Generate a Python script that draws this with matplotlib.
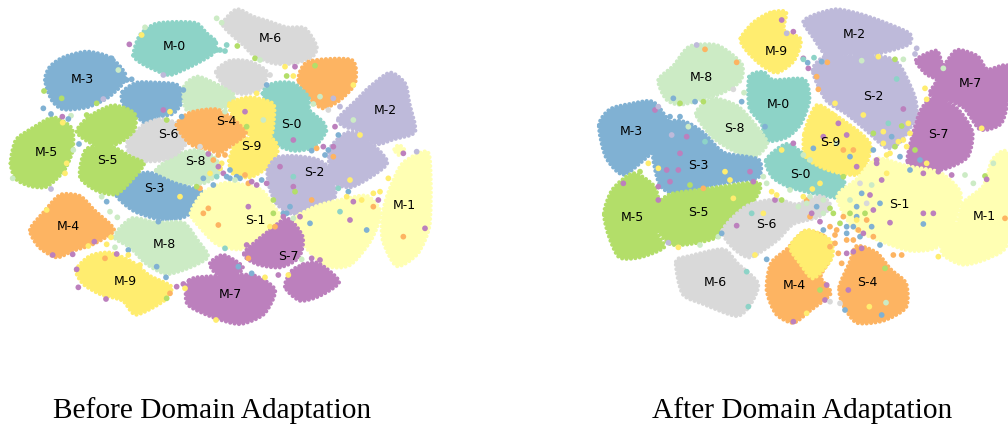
import matplotlib
matplotlib.use('Agg')
import matplotlib.pyplot as plt
from matplotlib.path import Path
from matplotlib.patches import PathPatch

# class colours (Set3 without red and pink)
colors = ['#8dd3c7', '#ffffb3', '#bebada', '#80b1d3', '#fdb462',
          '#b3de69', '#d9d9d9', '#bc80bd', '#ccebc5', '#ffed6f']

# ---- before adaptation: blob outlines
b_m0 = [(400,165),(420,105),(465,72),(530,66),(590,70),(620,100),(648,125),(640,160),(600,185),(560,205),(510,225),(470,212),(425,190)]
b_m6 = [(668,70),(710,28),(760,50),(800,62),(860,82),(915,85),(950,140),(935,172),(880,190),(820,190),(760,165),(730,135),(690,100)]
b_m3 = [(135,240),(150,200),(190,172),(260,155),(330,172),(375,220),(365,255),(320,295),(260,322),(190,328),(155,300)]
b_s6_top = [(648,215),(690,182),(750,185),(800,215),(785,265),(730,282),(680,265)]
b_s4_top = [(895,240),(925,185),(1055,180),(1065,250),(1020,300),(970,325),(935,300)]
b_m2 = [(1015,355),(1070,300),(1110,260),(1170,218),(1215,250),(1228,310),(1245,395),(1180,418),(1130,432),(1080,395),(1030,378)]
b_s3_top = [(368,275),(410,248),(470,248),(532,255),(548,300),(520,340),(470,352),(440,372),(400,340),(368,310)]
b_s8_top = [(552,260),(590,230),(640,248),(702,285),(680,322),(620,322),(558,328)]
b_s0 = [(788,280),(820,250),(880,250),(925,290),(928,330),(968,365),(978,395),(940,442),(880,452),(830,432),(808,380),(818,340)]
b_s9_top = [(688,310),(750,292),(818,310),(822,350),(812,410),(760,422),(740,390),(700,350)]
b_s9 = [(688,482),(708,430),(760,412),(822,420),(832,460),(802,502),(750,532),(700,522)]
b_s4 = [(530,375),(570,338),(650,328),(702,360),(738,400),(700,432),(660,458),(620,447),(570,432)]
b_s6 = [(383,425),(430,375),(480,358),(530,370),(562,420),(530,462),(480,482),(420,482),(388,460)]
b_s8 = [(468,510),(530,465),(590,450),(640,470),(662,510),(620,547),(560,552),(500,542)]
b_m5 = [(32,490),(48,420),(100,383),(160,352),(215,385),(218,450),(192,512),(140,560),(90,558),(48,537)]
b_s5_top = [(230,395),(270,348),(340,316),(403,340),(402,392),(350,432),(280,432)]
b_s5 = [(240,530),(258,448),(330,438),(392,470),(432,490),(402,532),(350,582),(290,572)]
b_s3 = [(347,580),(400,530),(450,518),(520,548),(605,575),(605,612),(550,652),(480,658),(400,632)]
b_s2 = [(803,510),(830,473),(880,468),(950,478),(992,510),(1005,590),(950,622),(880,642),(830,612),(808,560)]
b_m2_low = [(988,450),(1040,398),(1092,410),(1162,485),(1110,532),(1050,562),(998,542)]
b_s1 = [(572,640),(610,578),(680,548),(780,568),(822,620),(842,660),(780,712),(720,748),(650,732),(600,682)]
b_s1_right = [(882,660),(950,618),(1030,598),(1102,588),(1142,640),(1112,722),(1050,795),(980,798),(918,742)]
b_m1 = [(1148,640),(1168,570),(1208,490),(1282,455),(1292,540),(1288,680),(1252,762),(1190,798),(1148,720)]
b_m1_dot = [(1183,448),(1197,435),(1213,450),(1197,465)]
b_m4 = [(90,690),(130,638),(180,585),(240,588),(282,630),(342,690),(280,732),(220,752),(170,772),(118,742)]
b_m8 = [(343,710),(395,655),(470,668),(550,668),(592,720),(624,770),(570,802),(500,822),(440,792),(390,742)]
b_m9 = [(228,810),(270,768),(330,758),(400,788),(450,828),(514,860),(492,902),(408,944),(368,902),(300,882),(250,852)]
b_m7 = [(568,840),(650,828),(760,826),(825,870),(792,942),(720,972),(640,952),(562,912)]
b_m7_top = [(630,790),(670,765),(728,800),(700,830),(650,822)]
b_m7_right = [(855,860),(880,808),(950,788),(1017,845),(960,887),(900,902)]
b_s7 = [(732,760),(800,698),(862,656),(908,710),(897,772),(840,802),(770,792)]

# stray points of the before panel
b_stray_x = [650,665,435,680,650,660,675,712,645,388,425,490,335,355,380,395,130,132,153,187,213,205,188,185,310,290,260,765,780,855,885,945,860,880,810,800,770,1000,1020,1060,960,940,1005,1060,985,1015,1080,1250,1210,1135,1120,1050,1015,1045,1165,1100,1275,1210,1050,1020,930,935,880,885,770,745,710,690,650,640,600,540,590,625,610,655,745,810,820,850,880,825,905,935,960,910,835,865,795,755,715,740,675,745,352,330,320,305,475,470,385,345,320,333,283,265,158,218,140,153,38,195,237,220,200,420,498,530,550,318,235,230,290,315,350,385,500,510,555,648,490,510,550,545,500,430,600,625,655,660,670,740,790,735,675,880,970,1000,985,935,880,840]
b_stray_y = [55,68,82,135,150,150,153,138,128,133,105,225,175,210,240,238,325,273,342,350,347,357,368,295,297,310,345,175,180,200,200,197,228,228,225,255,280,295,320,255,290,312,380,360,330,405,405,455,460,600,580,540,565,575,535,690,685,710,660,635,670,600,560,575,555,550,530,535,530,555,565,590,560,625,640,675,620,680,600,640,655,680,778,775,780,795,825,825,832,820,800,735,745,775,652,635,605,590,665,800,750,742,733,712,725,738,765,763,630,567,535,520,432,450,490,795,832,860,852,897,862,808,770,775,762,765,895,880,865,960,330,335,270,350,360,405,440,462,465,505,520,380,360,335,335,420,440,470,450,452,530,500]
b_stray_c = [8,8,8,0,0,0,0,5,0,7,9,2,3,8,3,3,3,5,3,7,8,3,9,5,2,5,5,5,8,9,7,5,5,9,6,3,9,2,2,9,8,8,7,8,6,3,9,2,7,7,9,9,0,3,9,3,7,4,7,0,3,4,7,5,7,4,3,3,0,3,4,9,5,4,4,4,7,9,5,3,8,4,8,7,7,7,7,9,9,3,3,7,0,4,8,8,3,8,3,3,3,8,9,9,7,9,7,7,9,2,8,9,3,8,9,9,3,7,7,7,7,7,9,4,7,9,5,4,9,9,7,9,3,3,5,6,6,7,4,9,7,5,8,7,8,7,7,4,3,3,0,7]

# dense mess where the source clusters meet
b_mess_x = [640,665,690,720,755,785,610,630,675,705,735,800,655,680,860,900,950,975,1000,1040,1060,1085,1120,1140,870,850,820]
b_mess_y = [480,490,510,535,545,540,535,520,465,540,525,550,500,530,640,650,445,465,440,590,605,600,620,575,620,650,640]
b_mess_c = [4,9,3,3,7,3,3,9,4,8,4,7,7,3,3,7,4,3,7,9,7,9,4,9,3,7,5]

# ---- after adaptation: blob outlines
a_m9 = [(452,115),(490,68),(540,38),(588,36),(582,90),(632,118),(612,182),(560,218),(510,192),(468,150)]
a_m2 = [(640,65),(680,42),(740,28),(810,42),(880,66),(958,100),(958,132),(900,152),(830,167),(770,162),(710,167),(668,110)]
a_s2 = [(668,210),(710,167),(790,167),(890,172),(932,200),(974,290),(978,350),(932,424),(890,444),(830,392),(770,342),(708,300)]
a_m8 = [(205,240),(250,198),(298,140),(382,136),(454,190),(452,242),(400,277),(340,297),(270,314),(228,297)]
a_m0 = [(478,230),(520,216),(550,240),(642,238),(658,300),(632,372),(590,412),(530,422),(514,370),(478,322)]
a_m7 = [(978,180),(1040,152),(1060,195),(1100,150),(1162,168),(1192,208),(1254,198),(1254,300),(1232,372),(1170,388),(1120,322),(1040,292),(1018,280),(1040,240),(1008,222)]
a_s7 = [(952,482),(988,340),(1030,292),(1092,318),(1122,350),(1148,400),(1132,472),(1060,508),(1000,502)]
a_s8 = [(318,340),(370,296),(442,318),(492,370),(532,430),(490,472),(430,452),(368,412)]
a_m3 = [(27,375),(60,328),(120,312),(190,306),(242,380),(212,432),(170,472),(100,524),(48,472)]
a_s3 = [(188,440),(240,366),(292,368),(342,400),(402,458),(505,478),(505,532),(420,547),(340,562),(260,584),(208,552)]
a_s9 = [(643,400),(680,316),(740,348),(812,400),(842,440),(812,522),(720,512),(648,472)]
a_s0 = [(528,480),(590,432),(650,468),(720,508),(762,540),(752,592),(680,582),(600,562),(548,532)]
a_m5 = [(42,640),(68,568),(130,520),(192,558),(208,620),(202,700),(222,742),(150,772),(88,772),(58,712)]
a_s5 = [(198,620),(240,583),(340,568),(504,548),(492,602),(420,662),(380,712),(300,732),(240,732),(198,682)]
a_s6 = [(398,690),(470,618),(560,598),(620,613),(692,588),(722,620),(682,652),(610,672),(560,722),(480,772),(428,742)]
a_s1 = [(742,590),(800,538),(860,476),(950,498),(1050,518),(1112,580),(1092,672),(1040,742),(960,752),(870,722),(788,682)]
a_m1 = [(1118,610),(1180,558),(1208,478),(1254,465),(1254,722),(1200,772),(1120,794),(1058,762),(1058,700),(1100,670)]
a_m6 = [(258,785),(300,768),(400,748),(442,790),(504,850),(482,912),(440,948),(340,912),(278,882)]
a_m4 = [(530,870),(543,790),(590,748),(640,698),(702,708),(722,770),(692,830),(722,880),(660,932),(610,968),(558,942)]
a_s4 = [(748,860),(778,790),(800,738),(860,758),(902,808),(948,850),(948,922),(880,962),(800,968),(758,912)]
a_m4_top = [(600,740),(650,690),(720,720),(725,775),(670,835),(630,790)]

# stray points of the after panel
a_stray_x = [550,575,640,655,653,672,712,695,680,685,735,815,865,915,940,980,975,920,940,1005,1060,1010,955,935,960,940,925,1005,880,820,895,790,770,745,730,700,790,735,670,660,610,575,640,850,860,890,875,845,810,815,840,800,760,690,667,650,600,650,700,730,760,790,770,750,720,690,660,735,770,805,810,790,815,870,910,935,885,888,875,838,775,765,710,705,720,750,690,650,610,530,495,470,475,440,485,520,530,525,462,430,455,340,315,270,250,240,270,330,195,205,320,345,440,590,610,640,295,245,290,345,270,265,230,240,205,150,175,100,205,205,300,340,405,420,480,490,430,370,520,545,555,235,265,330,385,395,1000,1030,1000,900,1045,1085,1125,1185,1190,1000,960,1045,1210,1245,1150,1175]
a_stray_y = [40,60,175,205,188,173,187,185,230,268,310,182,170,178,178,145,162,237,327,265,205,298,370,378,400,420,425,350,395,345,370,350,405,370,345,410,450,450,445,480,430,450,465,450,490,520,540,555,550,580,585,500,530,550,567,600,570,610,600,640,650,680,680,670,680,665,650,705,720,690,710,755,745,735,765,765,805,908,945,920,870,930,855,900,905,910,870,940,965,778,765,815,920,677,640,530,550,380,278,268,305,305,305,310,295,350,350,340,330,320,135,148,187,100,95,178,380,405,410,425,460,510,510,545,505,515,490,550,600,560,555,565,515,540,515,545,595,595,640,575,600,728,742,735,710,700,640,640,672,668,515,525,525,528,538,520,510,770,490,655,550,385]
a_stray_c = [9,7,7,7,3,0,4,3,4,4,9,8,9,5,8,2,2,0,7,9,8,9,9,5,9,9,9,7,9,9,0,2,7,7,9,7,4,9,3,8,7,9,8,3,7,9,7,8,6,3,7,7,5,9,9,4,8,8,8,5,4,3,3,5,4,7,4,4,4,4,3,7,7,3,4,4,5,8,3,9,7,3,7,7,6,6,5,9,7,3,9,0,0,7,0,8,8,3,8,6,3,5,3,5,3,3,3,8,7,2,2,4,4,2,7,0,8,2,7,0,7,7,7,7,9,5,9,7,7,7,5,4,9,9,7,7,9,5,9,9,7,2,9,8,8,3,7,7,3,7,7,7,8,5,7,7,3,9,8,4,8,9]

# dense mess around the middle of the panel
a_mess_x = [780,800,825,850,870,900,780,760,740,720,800,830,860,890,915,930,950,975,990,1010,700,680,660,740,770,790,820,845,850,770,735,755,780,800,830,700,720,745,625,600,575,560,640,665,850,880,905]
a_mess_y = [600,620,640,630,610,460,470,450,430,625,650,660,480,465,440,470,440,450,480,490,640,620,590,690,700,720,700,680,710,760,730,790,640,660,610,690,740,760,620,640,600,585,590,640,400,430,410]
a_mess_c = [8,3,5,7,3,9,3,4,8,5,3,4,7,9,5,3,9,5,3,9,8,3,8,4,3,4,7,3,4,7,4,4,5,9,6,3,4,4,8,6,5,9,9,7,5,9,3]

# draw order and class of each blob
before_blobs = [(b_m0,0),(b_m6,6),(b_m3,3),(b_s6_top,6),(b_s4_top,4),(b_m2,2),(b_s3_top,3),(b_s8_top,8),
                (b_s0,0),(b_s9_top,9),(b_s9,9),(b_s8,8),(b_s6,6),(b_s4,4),(b_m5,5),(b_s5_top,5),(b_s3,3),(b_s5,5),
                (b_m2_low,2),(b_s2,2),(b_s1_right,1),(b_s1,1),(b_m1,1),(b_m1_dot,1),(b_m4,4),(b_m8,8),(b_m9,9),
                (b_m7,7),(b_m7_top,7),(b_m7_right,7),(b_s7,7)]
after_blobs = [(a_m9,9),(a_m2,2),(a_s2,2),(a_m8,8),(a_m0,0),(a_m7,7),(a_s7,7),(a_s8,8),(a_m3,3),(a_s3,3),
               (a_s0,0),(a_s9,9),(a_m5,5),(a_s5,5),(a_s6,6),(a_m1,1),(a_s1,1),(a_m6,6),(a_m4,4),(a_m4_top,9),(a_s4,4)]

# labels
before_names = ['M-0','M-6','M-3','M-2','M-5','M-4','M-8','M-9','M-7','M-1','S-6','S-4','S-0','S-9','S-8','S-5','S-3','S-2','S-1','S-7']
before_lx = [524,812,246,1155,138,204,494,376,690,1214,506,679,874,753,586,322,462,943,766,865]
before_ly = [141,114,238,331,456,679,734,845,885,616,404,365,375,439,484,480,564,517,663,768]
after_names = ['M-9','M-2','M-8','M-0','M-7','M-3','M-5','M-6','M-4','M-1','S-2','S-8','S-7','S-9','S-3','S-0','S-5','S-6','S-1','S-4']
after_lx = [560,794,334,566,1141,123,127,375,613,1184,850,433,1046,721,325,631,325,529,929,833]
after_ly = [155,105,233,314,251,395,652,847,856,650,288,385,402,427,497,524,637,672,615,848]


def drawBlob(ax, pts, color):
	# closed curve through the outline points, dotted edge so it looks like a point cloud
	n = len(pts)
	verts = [pts[0]]
	codes = [Path.MOVETO]
	for i in range(n):
		p0, p1, p2, p3 = pts[i-1], pts[i], pts[(i+1)%n], pts[(i+2)%n]
		verts += [(p1[0]+(p2[0]-p0[0])/8, p1[1]+(p2[1]-p0[1])/8),
		          (p2[0]-(p3[0]-p1[0])/8, p2[1]-(p3[1]-p1[1])/8), p2]
		codes += [Path.CURVE4, Path.CURVE4, Path.CURVE4]
	ax.add_patch(PathPatch(Path(verts, codes), fc=color, ec=color, lw=3,
		ls=(0,(0.01,1.05)), capstyle='round', zorder=2))


def drawPanel(ax, blobs, sx, sy, sc, names, lx, ly):
	for pts, c in blobs:
		drawBlob(ax, pts, colors[c])
	ax.scatter(sx, sy, c=[colors[c] for c in sc], s=17, lw=0, zorder=3)
	for name, x, y in zip(names, lx, ly):
		ax.text(x, y, name, fontsize=9, ha='center', va='center', color='black', zorder=4)


W, H = 1008.0, 425.0
fig = plt.figure(figsize=(W/100, H/100), dpi=100, facecolor='white')

# zoomed picture units: 3 units per output pixel
ax1 = fig.add_axes([0, 1-330/H, 440/W, 330/H])
ax1.set_xlim(0, 1320)
ax1.set_ylim(990, 0)
ax1.axis('off')
drawPanel(ax1, before_blobs, b_stray_x+b_mess_x, b_stray_y+b_mess_y, b_stray_c+b_mess_c, before_names, before_lx, before_ly)

ax2 = fig.add_axes([590/W, 1-330/H, 418/W, 330/H])
ax2.set_xlim(0, 1254)
ax2.set_ylim(990, 0)
ax2.axis('off')
drawPanel(ax2, after_blobs, a_stray_x+a_mess_x, a_stray_y+a_mess_y, a_stray_c+a_mess_c, after_names, after_lx, after_ly)

fig.text(212.5/W, 1-411/H, 'Before Domain Adaptation', family='Liberation Serif', fontsize=21.2,
	ha='center', va='center', color='black')
fig.text(802.5/W, 1-411/H, 'After Domain Adaptation', family='Liberation Serif', fontsize=21.2,
	ha='center', va='center', color='black')

fig.savefig('out.png', dpi=100)
